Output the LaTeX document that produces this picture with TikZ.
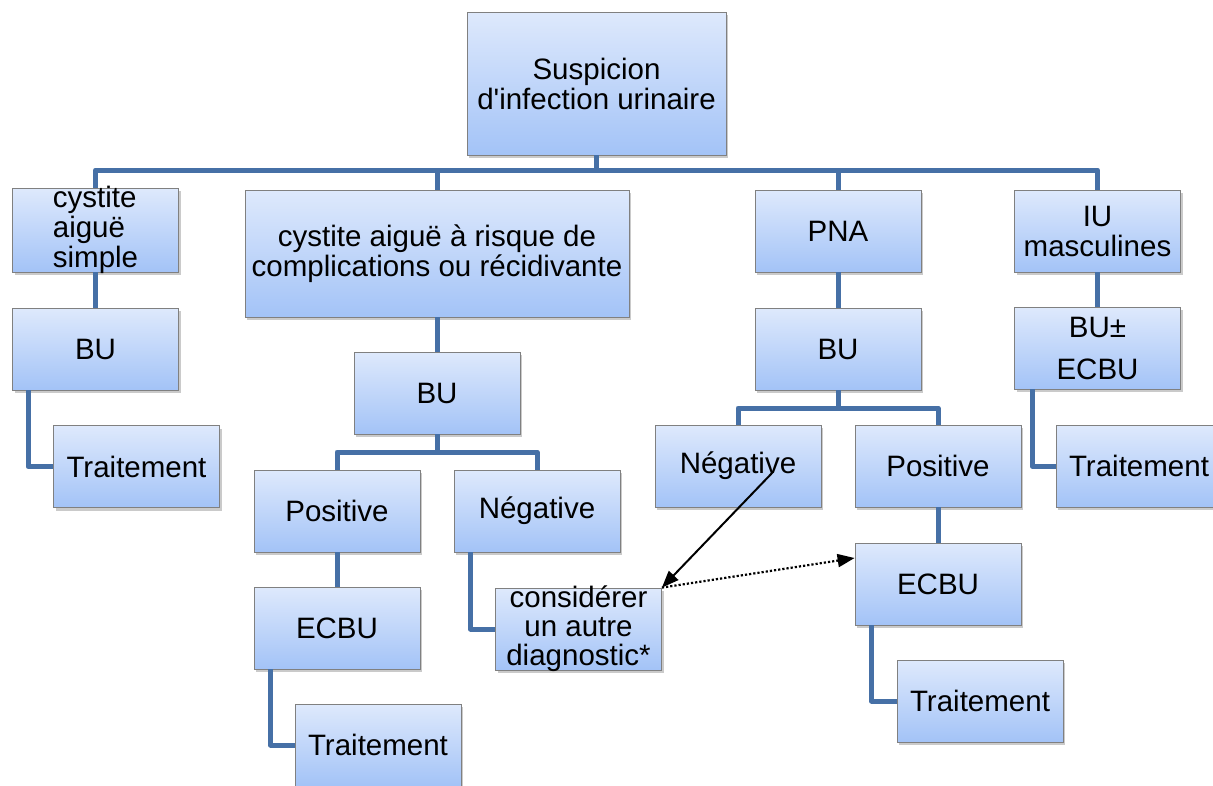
\documentclass[tikz,border=0pt]{standalone}
\usepackage{fontspec}
\setmainfont{Liberation Sans}
\usetikzlibrary{shadows,arrows.meta}
\definecolor{boxtop}{RGB}{222,233,252}
\definecolor{boxbot}{RGB}{163,195,247}
\definecolor{linkblue}{RGB}{70,112,166}
\begin{document}
\begin{tikzpicture}[x=1pt,y=-1pt,>={Triangle[length=17pt,width=13pt]},
    box/.style={draw=black!50,line width=0.8pt,top color=boxtop,bottom color=boxbot,
        minimum width=166pt,minimum height=82pt,inner sep=0pt,align=center,
        font=\fontsize{29.5}{30}\selectfont,
        drop shadow={shadow xshift=2pt,shadow yshift=-3pt,opacity=0.35,fill=black!60}},
    lbl/.style={inner sep=0pt,font=\fontsize{29.5}{29}\selectfont},
    link/.style={draw=linkblue,line width=5pt,line join=round}]
        \useasboundingbox (0,0) rectangle (1213,785);
        \node[box,minimum width=259pt,minimum height=143pt] (root) at (596.5,83.5) {Suspicion\\d\textquotesingle infection urinaire};
        \node[box,minimum height=84pt,label={[lbl,align=left,font=\fontsize{29.5}{30}\selectfont]center:{cystite\\aiguë\\simple}}] (cs) at (95.5,230) {};
        \node[box,minimum width=384pt,minimum height=127pt] (cc) at (437,253.5) {cystite aiguë à risque de\\complications ou récidivante};
        \node[box] (pna) at (838,231) {PNA};
        \node[box] (iu) at (1097.5,231) {IU\\masculines};
        \node[box] (bu1) at (95.5,349) {BU};
        \node[box] (bu2) at (437,393) {BU};
        \node[box] (bu3) at (838,349) {BU};
        \node[box,label={[lbl,align=center,font=\fontsize{29.5}{42}\selectfont]center:{BU±\\ECBU}}] (bu4) at (1097.5,348) {};
        \node[box] (tr1) at (136.5,466.5) {Traitement};
        \node[box] (pos2) at (337,511) {Positive};
        \node[box] (neg2) at (537,511) {Négative};
        \node[box] (ecbu2) at (337,628) {ECBU};
        \node[box] (tr2) at (378,745) {Traitement};
        \node[box,label={[lbl,align=center]center:{considérer\\un autre\\diagnostic*}}] (autre) at (578.5,629) {};
        \node[box] (neg3) at (738,466) {Négative};
        \node[box] (pos3) at (938,466) {Positive};
        \node[box] (ecbu3) at (938,584) {ECBU};
        \node[box] (tr3) at (980,701) {Traitement};
        \node[box] (tr4) at (1139,466) {Traitement};
        \coordinate (bus) at (596.5,170);
        \coordinate (bus2) at (437,452);
        \coordinate (bus3) at (838,408);
        \draw[link] (root.south) -- (bus);
        \draw[link] (cs.north) |- (bus) -| (iu.north);
        \draw[link] (cc.north) -- (cc.north |- bus);
        \draw[link] (pna.north) -- (pna.north |- bus);
        \draw[link] (cs.south) -- (bu1.north);
        \draw[link] ([xshift=16pt]bu1.south west) |- (tr1.west);
        \draw[link] (cc.south) -- (bu2.north);
        \draw[link] (bu2.south) -- (bus2);
        \draw[link] (pos2.north) |- (bus2) -| (neg2.north);
        \draw[link] (pos2.south) -- (ecbu2.north);
        \draw[link] ([xshift=17pt]ecbu2.south west) |- (tr2.west);
        \draw[link] ([xshift=17pt]neg2.south west) |- (autre.west);
        \draw[link] (pna.south) -- (bu3.north);
        \draw[link] (bu3.south) -- (bus3);
        \draw[link] (neg3.north) |- (bus3) -| (pos3.north);
        \draw[link] (pos3.south) -- (ecbu3.north);
        \draw[link] ([xshift=17pt]ecbu3.south west) |- (tr3.west);
        \draw[link] (iu.south) -- (bu4.north);
        \draw[link] ([xshift=18pt]bu4.south west) |- (tr4.west);
        \coordinate (negtip) at (773,472);
        \draw[->,line width=2pt] (negtip) -- (autre.north east);
        \draw[->,dotted,line width=2.2pt] (autre.north east) -- ([yshift=26pt]ecbu3.west);
    \end{tikzpicture}
\end{document}
